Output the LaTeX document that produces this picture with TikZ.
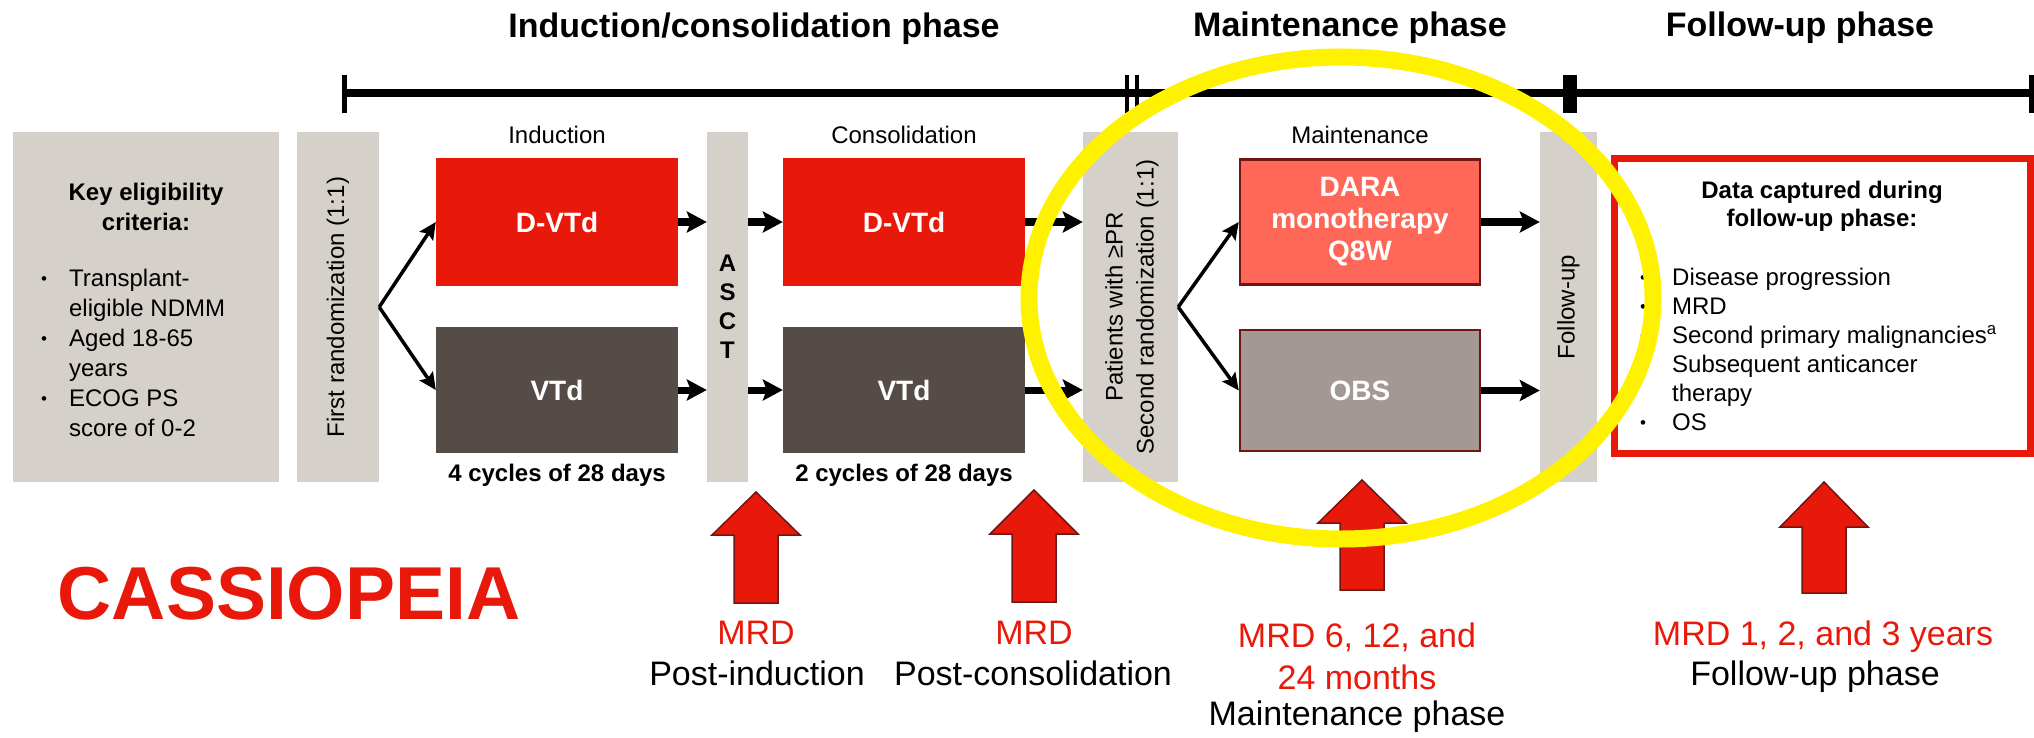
\documentclass[tikz,border=0pt]{standalone}
\usepackage{fontspec}
\setmainfont{Liberation Sans}
\usetikzlibrary{positioning, arrows.meta}
\definecolor{cassred}{RGB}{232,25,10}
\definecolor{darkbox}{RGB}{86,76,71}
\definecolor{bargrey}{RGB}{213,208,202}
\definecolor{darared}{RGB}{255,104,88}
\definecolor{obsgrey}{RGB}{163,152,147}
\definecolor{edgered}{RGB}{112,22,18}
\newcommand{\bul}{\raisebox{2pt}{\fontsize{17}{20}\selectfont\textbullet}}
\tikzset{>={Stealth[length=20pt,width=21pt,inset=4pt]},
  vbar/.style={fill=bargrey, inner sep=0pt, minimum height=350pt},
  arm/.style={inner sep=0pt, minimum width=242pt, text=white, align=center, font=\fontsize{28}{32}\selectfont\bfseries},
  txt/.style={inner sep=0pt, font=\fontsize{24}{30}\selectfont},
  phase/.style={inner sep=0pt, anchor=base, font=\fontsize{34}{40}\selectfont\bfseries},
  lowtxt/.style={inner sep=0pt, anchor=base, font=\fontsize{34}{40}\selectfont},
  mrd/.style={lowtxt, text=cassred},
  flow/.style={->, line width=7pt},
  split/.style={-{Stealth[length=17pt,width=16pt,inset=3pt]}, line width=3.5pt},
  mrdup/.style={fill=cassred, draw=edgered, line width=1.5pt},
  ring/.style={draw=yellow, line width=17pt}
}

\begin{document}
\begin{tikzpicture}[x=1pt, y=-1pt]
\useasboundingbox (0,0) rectangle (2034,738);

\node[phase] (ph1) at (754,38) {Induction/consolidation phase};
\node[phase] (ph2) at (1350,37) {Maintenance phase};
\node[phase] (ph3) at (1800,37) {Follow-up phase};
\draw[line width=8pt] (344,93) -- (2031,93);
\foreach \xa/\wd in {344/5, 1127/4, 1137/4, 1570/14, 2031/5}
  \draw[line width=\wd pt] (\xa,75) -- (\xa,113);

\node[vbar, minimum width=266pt] (elig) at (146,307) {};
\node[vbar, minimum width=82pt] (rand1) at (338,307) {};
\node[vbar, minimum width=41pt] (asct) at (727.5,307) {};
\node[vbar, minimum width=95pt] (rand2) at (1130.5,307) {};
\node[vbar, minimum width=57pt] (fup) at (1568.5,307) {};

\node[arm, fill=cassred, minimum height=128pt] (ind1) at (557,222) {D-VTd};
\node[arm, fill=darkbox, minimum height=126pt] (ind2) at (557,390) {VTd};
\node[arm, fill=cassred, minimum height=128pt] (con1) at (904,222) {D-VTd};
\node[arm, fill=darkbox, minimum height=126pt] (con2) at (904,390) {VTd};
\node[arm, fill=darared, draw=edgered, line width=2.5pt, minimum height=125pt, minimum width=240pt] (dara) at (1360,222) {DARA\\monotherapy\\Q8W};
\node[arm, fill=obsgrey, draw=edgered, line width=2.5pt, minimum height=121pt, minimum width=240pt] (obs) at (1360,390.5) {OBS};

\node[txt, above=14pt of ind1] (lind) {Induction};
\node[txt, above=14pt of con1] (lcon) {Consolidation};
\node[txt, above=14pt of dara] (lmain) {Maintenance};
\node[txt, font=\fontsize{24}{30}\selectfont\bfseries, below=11pt of ind2] (cyc1) {4 cycles of 28 days};
\node[txt, font=\fontsize{24}{30}\selectfont\bfseries, below=11pt of con2] (cyc2) {2 cycles of 28 days};

\node[txt, rotate=90] (rtxt1) at (rand1) {First randomization (1:1)};
\node[txt, rotate=90, align=center, font=\fontsize{24}{31}\selectfont] (rtxt2) at (1132,307) {Patients with ≥PR\\Second randomization (1:1)};
\node[txt, rotate=90] (ftxt) at (fup) {Follow-up};
\node[txt, align=center, font=\fontsize{24}{29}\selectfont\bfseries] (asctxt) at (727.5,307) {A\\S\\C\\T};

\node[txt, align=center, font=\fontsize{24}{30}\selectfont\bfseries] (keyhd) at (146,207) {Key eligibility\\criteria:};
\node[txt, anchor=north west] (keyls) at (41,265) {\begin{tabular}{@{}l@{\hspace{22pt}}l@{}}
\bul & Transplant-\\
 & eligible NDMM\\
\bul & Aged 18-65\\
 & years\\
\bul & ECOG PS\\
 & score of 0-2
\end{tabular}};

\node[draw=cassred, line width=7pt, minimum width=416pt, minimum height=295pt, inner sep=0pt] (data) at (1822,306) {};
\node[txt, align=center, font=\fontsize{24}{28}\selectfont\bfseries] (datahd) at (1822,206) {Data captured during\\follow-up phase:};
\node[txt, anchor=north west, font=\fontsize{24}{29}\selectfont] (datals) at (1640,265) {\begin{tabular}{@{}l@{\hspace{26pt}}l@{}}
\bul & Disease progression\\
\bul & MRD\\
\bul & Second primary malignancies\textsuperscript{a}\\
\bul & Subsequent anticancer\\
 & therapy\\
\bul & OS
\end{tabular}};

\draw[split] (rand1.east) -- (ind1.west);
\draw[split] (rand1.east) -- (ind2.west);
\draw[flow] (ind1) -- (ind1 -| asct.west);
\draw[flow] (ind2) -- (ind2 -| asct.west);
\draw[flow] (con1 -| asct.east) -- (con1);
\draw[flow] (con2 -| asct.east) -- (con2);
\draw[flow] (con1) -- (con1 -| rand2.west);
\draw[flow] (con2) -- (con2 -| rand2.west);
\draw[split] (rand2.east) -- (dara.west);
\draw[split] (rand2.east) -- (obs.west);
\draw[flow] (dara) -- (dara -| fup.west);
\draw[flow] (obs) -- (obs -| fup.west);

\foreach \xa/\ya/\yb/\yc in {756/492/535/603, 1034/490/534/602, 1362/480/523/590, 1824/482/527/593}
  \draw[mrdup] (\xa-22,\yc) -- (\xa-22,\yb) -- (\xa-44,\yb) -- (\xa,\ya) -- (\xa+44,\yb) -- (\xa+22,\yb) -- (\xa+22,\yc) -- cycle;

\node[inner sep=0pt, text=cassred, font=\fontsize{75}{80}\selectfont\bfseries] (trial) at (289,594) {CASSIOPEIA};
\node[mrd] (mrd1) at (756,644) {MRD};
\node[lowtxt] (post1) at (757,685) {Post-induction};
\node[mrd] (mrd2) at (1034,644) {MRD};
\node[lowtxt] (post2) at (1033,685) {Post-consolidation};
\node[mrd] (mrd3a) at (1357,647) {MRD 6, 12, and};
\node[mrd] (mrd3b) at (1357,689) {24 months};
\node[lowtxt] (post3) at (1357,725) {Maintenance phase};
\node[mrd] (mrd4) at (1823,645) {MRD 1, 2, and 3 years};
\node[lowtxt] (post4) at (1815,685) {Follow-up phase};

\draw[ring] (1341,298) ellipse [x radius=312pt, y radius=241pt];
\end{tikzpicture}
\end{document}
